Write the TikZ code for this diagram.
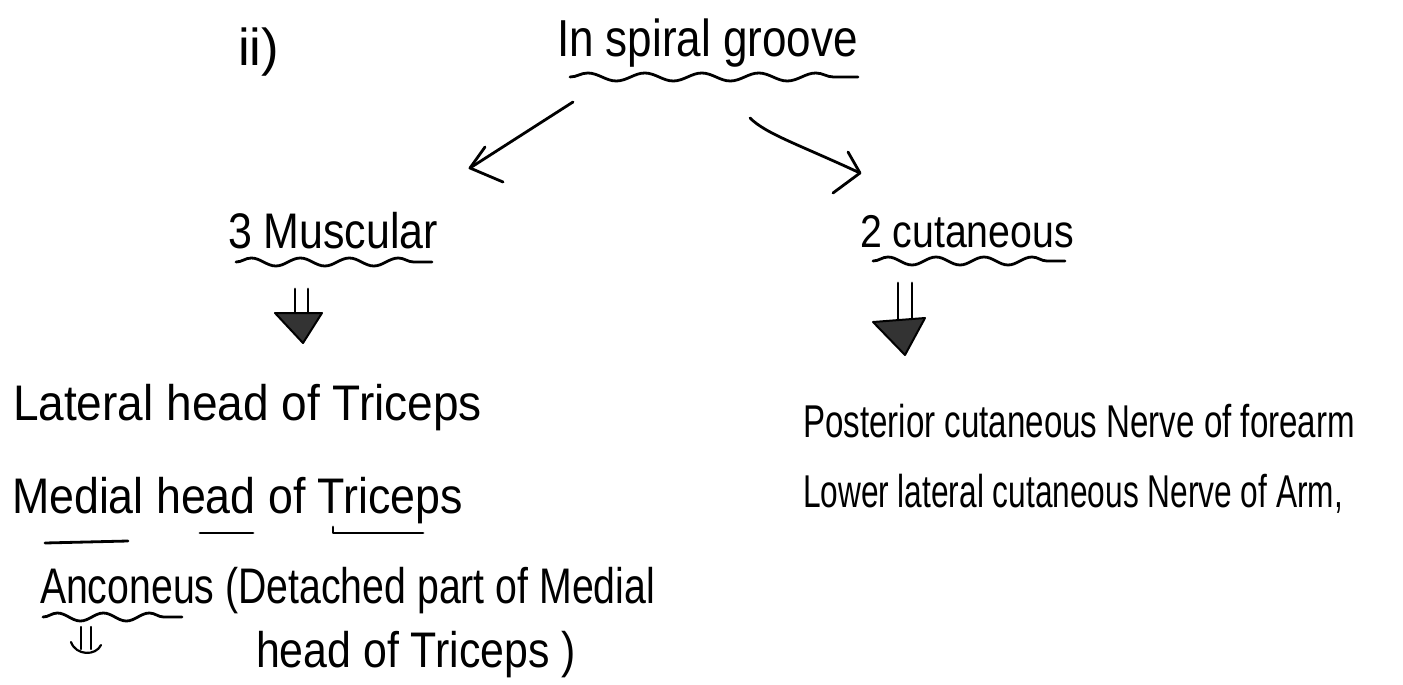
\documentclass[tikz,border=0pt]{standalone}
\usepackage{fontspec}
\setmainfont{Liberation Sans}
\usepackage{graphicx}
\usetikzlibrary{decorations.pathmorphing,calc}
\newcommand{\fitw}[2]{\resizebox{#1}{\height}{#2}}
\begin{document}
\begin{tikzpicture}[x=1pt,y=-1pt,
  ink/.style={line width=2.8pt, line cap=round, line join=round, black},
  wavy/.style={ink, decorate, decoration={snake, amplitude=4pt, segment length=#1}},
  txt/.style={anchor=base west, inner sep=0pt, outer sep=0pt, text=black},
  big/.style={font=\fontsize{52}{58}\selectfont},
  mid/.style={font=\fontsize{50}{56}\selectfont},
  sml/.style={font=\fontsize{46}{52}\selectfont},
  headfill/.style={ink, line width=2pt, fill=black!80}]
\useasboundingbox[fill=white] (0,0) rectangle (1403,685);

% texts
\node[txt,big] (num) at (238,66) {\fitw{41pt}{ii)}};
\node[txt,big] (title) at (557,57) {\fitw{301pt}{In spiral groove}};
\node[txt,mid] (musc) at (228,248) {\fitw{210pt}{3 Muscular}};
\node[txt,sml] (cut) at (860,247) {\fitw{214pt}{2 cutaneous}};
\node[txt,mid] (lat) at (13,420) {\fitw{469pt}{Lateral head of Triceps}};
\node[txt,mid] (med) at (12,513) {\fitw{451pt}{Medial head of Triceps}};
\node[txt,mid] (anc) at (40,603) {\fitw{615pt}{Anconeus (Detached part of Medial}};
\node[txt,mid] (anc2) at (256,667) {\fitw{320pt}{head of Triceps )}};
\node[txt,sml] (post) at (803,437) {\fitw{552pt}{Posterior cutaneous Nerve of forearm}};
\node[txt,sml] (lower) at (803,507) {\fitw{540pt}{Lower lateral cutaneous Nerve of Arm,}};

% underlines
\draw[wavy=57pt] (570,77) -- (858,77);
\draw[wavy=49pt] (236,262) -- (432,262);
\draw[wavy=48pt] (873,261) -- (1065,261);
\draw[wavy=46pt] (43,617) -- (182,617);
\draw[ink] (200,533) -- (253,533);
\draw[ink] (333,527) -- (333,533) -- (423,533);
\draw[ink] (45,543) -- (128,541);

% arrows from title
\coordinate (la1) at (573,102);
\coordinate (la2) at (470,168);
\coordinate (ra1) at (750,118);
\coordinate (ra2) at (860,173);
\draw[ink] (la1) -- (la2);
\draw[ink] (485,147) -- (la2) -- (503,182);
\draw[ink] (ra1) .. controls (766,134) and (800,145) .. (ra2);
\draw[ink] (848,152) -- (ra2) -- (833,193);

% double arrows
\coordinate (ma) at (302,289);
\coordinate (mb) at (303,343);
\draw[ink] ($(ma)+(-7,0)$) -- ($(ma)+(-7,26)$);
\draw[ink] ($(ma)+(6,0)$) -- ($(ma)+(6,26)$);
\draw[headfill] (275,313) -- (322,313) -- (mb) -- cycle;

\coordinate (ca) at (905,283);
\coordinate (cb) at (905,355);
\draw[ink] ($(ca)+(-7,0)$) -- ($(ca)+(-7,40)$);
\draw[ink] ($(ca)+(7,0)$) -- ($(ca)+(7,40)$);
\draw[headfill] (873,322) -- (925,318) -- (cb) -- cycle;

% small double sign under Anconeus
\draw[ink,line width=2.2pt] (81,627) -- (81,649);
\draw[ink,line width=2.2pt] (91,627) -- (91,649);
\draw[ink,line width=2.2pt] (71,642) .. controls (76,656) and (96,656) .. (101,645);
\end{tikzpicture}
\end{document}
